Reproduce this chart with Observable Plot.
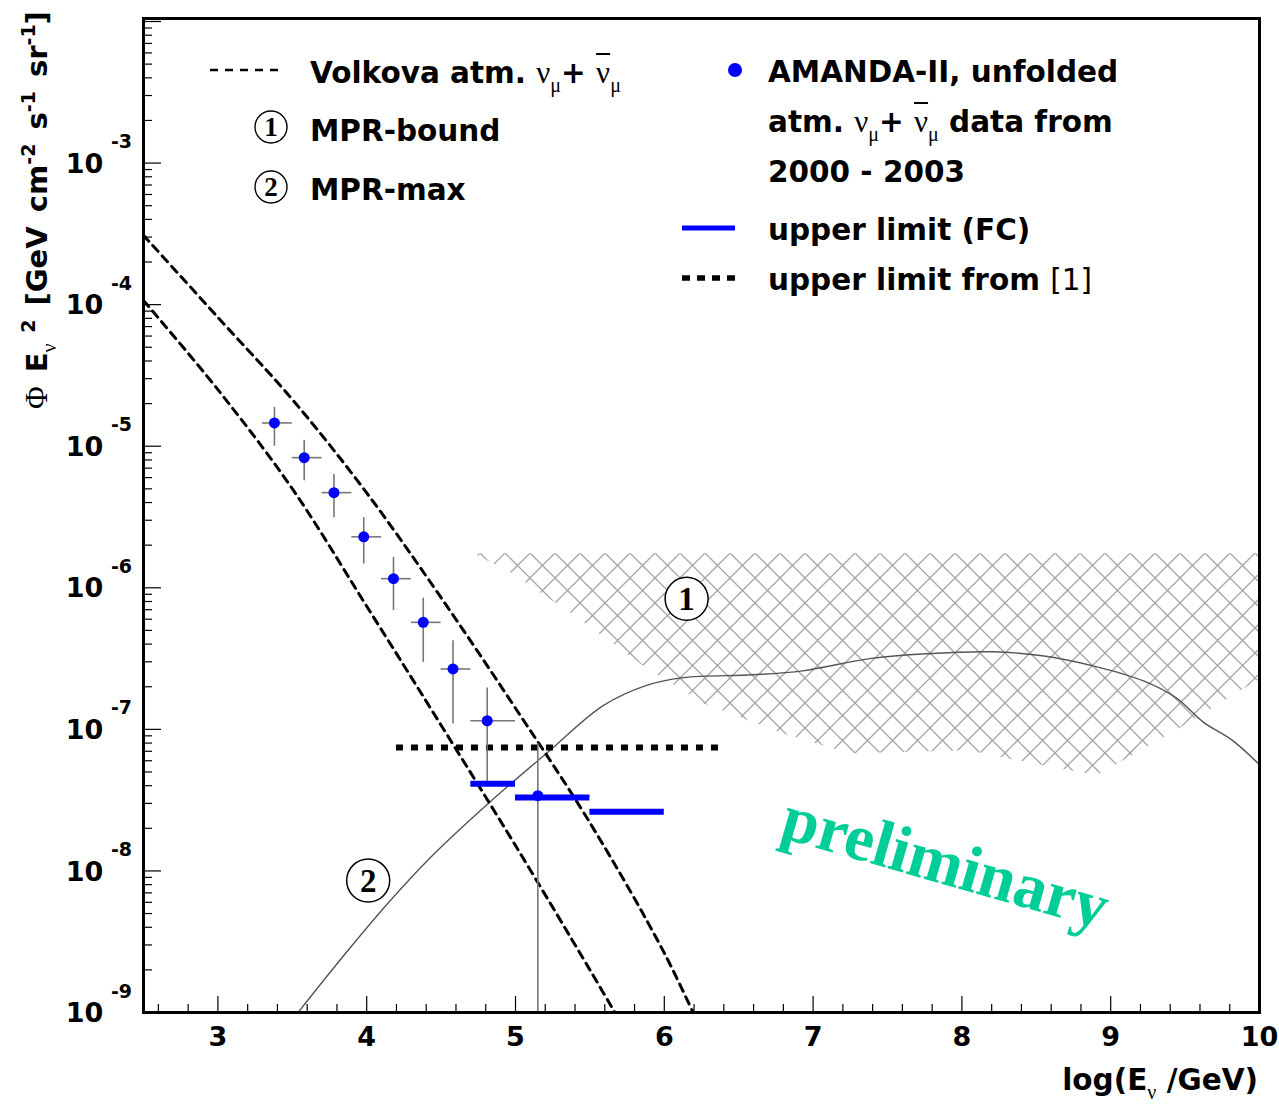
<!DOCTYPE html>
<html>
<head>
<meta charset="utf-8">
<script src="https://cdn.jsdelivr.net/npm/d3@7"></script>
<script src="https://cdn.jsdelivr.net/npm/@observablehq/plot@0.6"></script>
<style>
  html, body { margin: 0; padding: 0; background: #fff; }
  #wrap { position: relative; width: 1279px; height: 1106px; overflow: hidden; }
  .lg { position: absolute; font-family: "DejaVu Sans", sans-serif; font-weight: bold; font-size: 29.5px; line-height: 30px; white-space: nowrap; color: #000; }
  .g { font-family: "Liberation Serif", "DejaVu Serif", serif; font-weight: normal; font-size: 31px; line-height: 0; }
  .sb { font-family: "Liberation Serif", "DejaVu Serif", serif; font-weight: normal; font-size: 20px; vertical-align: -9px; line-height: 0; }
  .sp { font-size: 19px; vertical-align: 12px; line-height: 0; }
  .ovl { text-decoration: overline; text-decoration-thickness: 2px; }
  .nb { font-weight: normal; }
  #ov { position: absolute; left: 0; top: 0; pointer-events: none; }
</style>
</head>
<body>
<div id="wrap"></div>
<script>
// ---------------- DATA ----------------
// AMANDA-II unfolded atmospheric nu_mu spectrum (log10(E/GeV) bins, E^2 Phi)
const energyBinCenter = [3.38, 3.58, 3.78, 3.98, 4.18, 4.38, 4.58, 4.81, 5.15];
const energyBinLow    = [3.30, 3.50, 3.70, 3.90, 4.10, 4.30, 4.50, 4.70, 5.00];
const energyBinHigh   = [3.50, 3.70, 3.90, 4.10, 4.30, 4.50, 4.70, 5.00, 5.50];
const amandaFlux      = [1.46e-5, 8.3e-6, 4.7e-6, 2.29e-6, 1.16e-6, 5.7e-7, 2.67e-7, 1.15e-7, 3.4e-8];
const amandaErrHigh   = [1.88e-5, 1.10e-5, 6.3e-6, 3.13e-6, 1.64e-6, 8.45e-7, 4.23e-7, 1.96e-7, 7.9e-8];
const amandaErrLow    = [1.0e-5, 5.7e-6, 3.13e-6, 1.47e-6, 6.9e-7, 2.97e-7, 1.09e-7, 4.13e-8, 1e-10];

// Upper limits (Feldman-Cousins)
const fcBinLow  = [4.7, 5.0, 5.5];
const fcBinHigh = [5.0, 5.5, 6.0];
const fcLimit   = [4.13e-8, 3.30e-8, 2.62e-8];

// Upper limit from [1]
const refLimitLow = [4.2];
const refLimitHigh = [6.39];
const refLimit = [7.43e-8];

// Volkova atmospheric nu_mu + anti-nu_mu (upper / lower curves)
const volkovaHighE = [2.5, 3.0, 3.5, 4.0, 4.5, 5.0, 5.5, 6.0, 6.25];
const volkovaHigh  = [3.09e-4, 8.13e-5, 2.14e-5, 4.68e-6, 8.51e-7, 1.41e-7, 2.19e-8, 2.63e-9, 7.4e-10];
const volkovaLowE  = [2.5, 3.0, 3.5, 4.0, 4.5, 5.0, 5.5, 5.75];
const volkovaLow   = [1.07e-4, 2.51e-5, 5.01e-6, 7.41e-7, 1.07e-7, 1.51e-8, 2.0e-9, 7.1e-10];

// MPR-max (2)
const mprMaxE = [3.50, 3.561, 3.857, 4.159, 4.427, 4.83, 5.213, 5.589, 5.871, 6.127, 6.60, 6.93, 7.38, 7.76, 8.21, 8.54, 8.88, 9.22, 9.44, 9.62, 9.82, 10.0];
const mprMax  = [8.87e-10, 1.07e-9, 2.61e-9, 6.18e-9, 1.24e-8, 3.08e-8, 6.84e-8, 1.47e-7, 2.03e-7, 2.32e-7, 2.43e-7, 2.59e-7, 3.16e-7, 3.42e-7, 3.53e-7, 3.31e-7, 2.81e-7, 2.20e-7, 1.67e-7, 1.13e-7, 8.32e-8, 5.62e-8];

// MPR-bound (1) hatched band
const mprBoundE     = [4.72, 4.965, 5.368, 5.858, 6.261, 6.798, 7.248, 8.054, 8.303, 8.907, 9.243, 9.552, 9.847, 10.0];
const mprBoundLow   = [1.74e-6, 1.28e-6, 6.67e-7, 2.81e-7, 1.52e-7, 9.31e-8, 6.73e-8, 7.06e-8, 6.21e-8, 4.71e-8, 7.43e-8, 1.15e-7, 1.79e-7, 2.24e-7];
const mprBoundHigh  = 1.74e-6;

// Annotations
const circledLabels = [{e: 6.15, f: 8.35e-7, t: "1"}, {e: 4.01, f: 8.55e-9, t: "2"}];
const watermark = [{e: 7.89, f: 1.14e-8, t: "preliminary"}];

// Axis ticks
const xMajor = [3, 4, 5, 6, 7, 8, 9, 10];
const yMajor = [1e-9, 1e-8, 1e-7, 1e-6, 1e-5, 1e-4, 1e-3, 1e-2];
const yLabeled = [1e-9, 1e-8, 1e-7, 1e-6, 1e-5, 1e-4, 1e-3];
const xMinor = d3.range(26, 100, 2).filter(v => v % 10 !== 0).map(v => v / 10);
const yMinor = [];
for (let k = -9; k <= -3; k++) for (let m = 2; m <= 9; m++) yMinor.push(m * Math.pow(10, k));

// ---------------- TABLES ----------------
const points = energyBinCenter.map((e, i) => ({e, lo: energyBinLow[i], hi: energyBinHigh[i], f: amandaFlux[i], up: amandaErrHigh[i], dn: amandaErrLow[i]}));
const fc = fcLimit.map((f, i) => ({lo: fcBinLow[i], hi: fcBinHigh[i], f}));
const ref = refLimit.map((f, i) => ({lo: refLimitLow[i], hi: refLimitHigh[i], f}));
const volkHi = volkovaHighE.map((e, i) => ({e, f: volkovaHigh[i]}));
const volkLo = volkovaLowE.map((e, i) => ({e, f: volkovaLow[i]}));
const mpr = mprMaxE.map((e, i) => ({e, f: mprMax[i]}));
const band = mprBoundE.map((e, i) => ({e, lo: mprBoundLow[i], hi: mprBoundHigh}));

// ---------------- LAYOUT ----------------
const W = 1279, H = 1106, mL = 143, mR = 20, mT = 18, mB = 94;
const pw = W - mL - mR, ph = H - mT - mB;
const FONT = "DejaVu Sans";

const svg = Plot.plot({
  width: W, height: H,
  marginLeft: mL, marginRight: mR, marginTop: mT, marginBottom: mB,
  x: {domain: [2.5, 10], axis: null},
  y: {type: "log", domain: [1e-9, 1.05e-2], axis: null},
  style: {fontFamily: FONT, background: "white", overflow: "visible"},
  marks: [
    Plot.areaY(band, {x: "e", y1: "lo", y2: "hi", fill: "url(#xhatch)", clip: true}),
    Plot.line(mpr, {x: "e", y: "f", stroke: "#555", strokeWidth: 1.4, curve: "catmull-rom", clip: true}),
    Plot.line(volkHi, {x: "e", y: "f", stroke: "#000", strokeWidth: 3, strokeDasharray: "8,6", curve: "catmull-rom", clip: true}),
    Plot.line(volkLo, {x: "e", y: "f", stroke: "#000", strokeWidth: 3, strokeDasharray: "8,6", curve: "catmull-rom", clip: true}),
    Plot.ruleY(ref, {y: "f", x1: "lo", x2: "hi", stroke: "#000", strokeWidth: 6, strokeDasharray: "7,8"}),
    Plot.ruleX(points, {x: "e", y1: "dn", y2: "up", stroke: "#777", strokeWidth: 1.6, clip: true}),
    Plot.ruleY(points, {y: "f", x1: "lo", x2: "hi", stroke: "#777", strokeWidth: 1.6}),
    Plot.ruleY(fc, {y: "f", x1: "lo", x2: "hi", stroke: "#0000ff", strokeWidth: 6}),
    Plot.dot(points, {x: "e", y: "f", r: 5.5, fill: "#0000ff"}),
    Plot.dot(circledLabels, {x: "e", y: "f", r: 21.5, fill: "white", stroke: "#000", strokeWidth: 1.5}),
    Plot.text(circledLabels, {x: "e", y: "f", text: "t", fontFamily: "Liberation Serif", fontWeight: "bold", fontSize: 33, dy: 1}),
    Plot.text(watermark, {x: "e", y: "f", text: "t", rotate: 16, fill: "#00cd97", fontFamily: "Liberation Serif", fontWeight: "bold", fontSize: 66}),
    // ticks inside the frame
    Plot.tickX(xMajor, {x: d => d, insetTop: ph - 16, stroke: "#000", strokeWidth: 1.2}),
    Plot.tickX(xMinor, {x: d => d, insetTop: ph - 8, stroke: "#000", strokeWidth: 1.2}),
    Plot.tickY(yMajor, {y: d => d, insetRight: pw - 18, stroke: "#000", strokeWidth: 1.2}),
    Plot.tickY(yMinor, {y: d => d, insetRight: pw - 9, stroke: "#000", strokeWidth: 1.2}),
    Plot.frame({stroke: "#000", strokeWidth: 3}),
    // tick labels
    Plot.text(xMajor, {x: d => d, text: d => String(d), frameAnchor: "bottom", lineAnchor: "middle", textAnchor: "middle", dy: 25, fontSize: 27, fontWeight: "bold", fontFamily: FONT}),
    Plot.text(yLabeled, {y: d => d, text: () => "10", frameAnchor: "left", textAnchor: "middle", lineAnchor: "middle", dx: -59, dy: 1, fontSize: 27, fontWeight: "bold", fontFamily: FONT}),
    Plot.text(yLabeled, {y: d => d, text: d => String(Math.round(Math.log10(d))), frameAnchor: "left", textAnchor: "middle", lineAnchor: "middle", dx: -22, dy: -21, fontSize: 19, fontWeight: "bold", fontFamily: FONT})
  ]
});

// hatch pattern for MPR-bound
const defs = d3.select(svg).insert("defs", ":first-child");
const pat = defs.append("pattern").attr("id", "xhatch").attr("patternUnits", "userSpaceOnUse")
  .attr("width", 25).attr("height", 25).attr("x", 5).attr("y", 3);
pat.append("path").attr("d", "M0,0L25,25M25,0L0,25").attr("stroke", "#a4a4a4").attr("stroke-width", 1.3).attr("fill", "none");

const wrap = document.getElementById("wrap");
wrap.appendChild(svg);

// legend swatches overlay
const ov = d3.select(wrap).append("svg").attr("id", "ov").attr("width", W).attr("height", H);
ov.append("line").attr("x1", 210).attr("x2", 278).attr("y1", 70).attr("y2", 70)
  .attr("stroke", "#000").attr("stroke-width", 2.4).attr("stroke-dasharray", "8,7");
[[127, "1"], [187, "2"]].forEach(([cy, t]) => {
  ov.append("circle").attr("cx", 271).attr("cy", cy).attr("r", 16).attr("fill", "none").attr("stroke", "#000").attr("stroke-width", 1.4);
  ov.append("text").attr("x", 271).attr("y", cy + 9).attr("text-anchor", "middle")
    .attr("font-family", "Liberation Serif").attr("font-weight", "bold").attr("font-size", 27).text(t);
});
ov.append("circle").attr("cx", 735).attr("cy", 70).attr("r", 7).attr("fill", "#0000ff");
ov.append("line").attr("x1", 682).attr("x2", 735).attr("y1", 228).attr("y2", 228).attr("stroke", "#0000ff").attr("stroke-width", 5);
ov.append("line").attr("x1", 682).attr("x2", 737).attr("y1", 278).attr("y2", 278)
  .attr("stroke", "#000").attr("stroke-width", 5.5).attr("stroke-dasharray", "8,7");

// legend / title text overlay
const B = 25.2; // baseline offset inside .lg
function addText(x, baseline, html) {
  const d = document.createElement("div");
  d.className = "lg";
  d.style.left = x + "px";
  d.style.top = (baseline - B) + "px";
  d.innerHTML = html;
  wrap.appendChild(d);
  return d;
}
const numu = '<span class="g">ν</span><span class="sb">μ</span>+ <span class="g ovl">ν</span><span class="sb">μ</span>';
addText(310, 83, 'Volkova atm. ' + numu);
addText(310, 141.5, 'MPR-bound');
addText(310, 200, 'MPR-max');
addText(768, 82, 'AMANDA-II, unfolded');
addText(768, 132, 'atm. ' + numu + ' data from');
addText(768, 182, '2000 - 2003');
addText(768, 240, 'upper limit (FC)');
addText(768, 290, 'upper limit from <span class="nb">[1]</span>');

// x-axis title (right aligned to frame)
const xt = document.createElement("div");
xt.className = "lg";
xt.style.right = (W - 1258) + "px";
xt.style.top = (1090 - B) + "px";
xt.innerHTML = 'log(E<span class="sb">ν</span> /GeV)';
wrap.appendChild(xt);

// y-axis title (rotated)
const yt = document.createElement("div");
yt.className = "lg";
yt.style.fontSize = "29px";
yt.style.wordSpacing = "4px";
yt.style.left = (47 - B) + "px";
yt.style.top = "409px";
yt.style.transformOrigin = "left top";
yt.style.transform = "rotate(-90deg)";
yt.innerHTML = '<span class="g">Φ</span> E<span class="sb">ν</span><span class="sp">&nbsp;2</span> [GeV cm<span class="sp">-2</span> s<span class="sp">-1</span> sr<span class="sp">-1</span>]';
wrap.appendChild(yt);
</script>
</body>
</html>
